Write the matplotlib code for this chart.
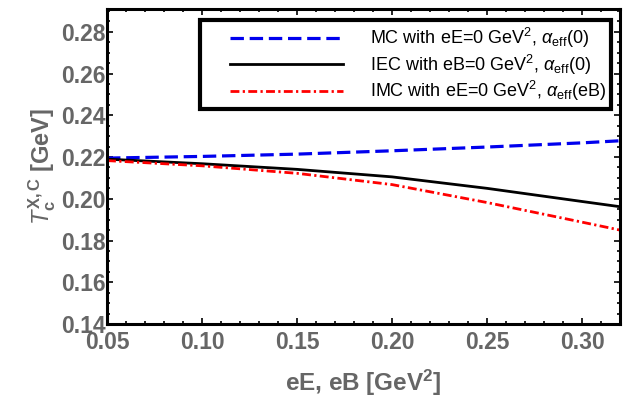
import numpy as np
import matplotlib.pyplot as plt
from matplotlib.lines import Line2D
from matplotlib.legend_handler import HandlerLine2D
from matplotlib.ticker import AutoMinorLocator

plt.rcParams['font.family'] = ['Liberation Sans', 'DejaVu Sans']
plt.rcParams['mathtext.fontset'] = 'custom'
plt.rcParams['mathtext.rm'] = 'Liberation Sans'
plt.rcParams['mathtext.it'] = 'Liberation Sans:italic'
plt.rcParams['mathtext.bf'] = 'Liberation Sans:bold'

# valores
eB = [0.05, 0.10, 0.15, 0.20, 0.25, 0.30, 0.32]
tc_mc = [0.2195, 0.2203, 0.2214, 0.2230, 0.2248, 0.2268, 0.2278]
tc_iec = [0.2190, 0.2168, 0.2141, 0.2105, 0.2050, 0.1987, 0.1962]
tc_imc = [0.2183, 0.2158, 0.2122, 0.2068, 0.1982, 0.1888, 0.1850]

rotulos = [r'MC with eE=0 GeV$^2$, $\alpha_{\rm eff}(0)$',
           r'IEC with eB=0 GeV$^2$, $\alpha_{\rm eff}(0)$',
           r'IMC with eE=0 GeV$^2$, $\alpha_{\rm eff}$(eB)']

cinza = '#666666'

fig = plt.figure(figsize=(6.27, 4.03), dpi=100)
ax = fig.add_axes([0.1707, 0.196, 0.8183, 0.782])

ax.plot(eB, tc_mc, color='#0000ee', lw=2.3, dashes=(4.2, 1.8), label=rotulos[0])
ax.plot(eB, tc_iec, color='black', lw=2.0, label=rotulos[1])
ax.plot(eB, tc_imc, color='#ff0000', lw=2.0, dashes=(3.2, 1.2, 0.8, 1.2), label=rotulos[2])

ax.set_xlim(0.05, 0.32)
ax.set_ylim(0.14, 0.291)
ax.set_xticks([0.05, 0.10, 0.15, 0.20, 0.25, 0.30])
ax.set_yticks(np.arange(0.14, 0.2801, 0.02))
ax.set_xticklabels(['0.05', '0.10', '0.15', '0.20', '0.25', '0.30'])
ax.set_yticklabels(['%.2f' % v for v in np.arange(0.14, 0.2801, 0.02)])
ax.xaxis.set_minor_locator(AutoMinorLocator(5))
ax.yaxis.set_minor_locator(AutoMinorLocator(4))
ax.tick_params(which='both', direction='in', top=True, right=True,
               labelcolor=cinza, labelsize=16.5, width=1.2)
ax.tick_params(which='major', length=4)
ax.tick_params(axis='x', which='major', pad=5)
ax.tick_params(axis='y', which='major', pad=1)
ax.tick_params(which='minor', length=2)
for lbl in ax.get_xticklabels() + ax.get_yticklabels():
    lbl.set_fontweight('bold')
for s in ax.spines.values():
    s.set_linewidth(2.2)

ax.set_xlabel(r'eE, eB [GeV$^\mathbf{2}$]', color=cinza, fontsize=17.5,
              fontweight='bold', labelpad=10)
ax.set_ylabel(r'$T_{\mathbf{c}}^{\mathbf{X,C}}$ [GeV]', color=cinza, fontsize=17,
              fontweight='bold', labelpad=2)

leg = ax.legend(loc='upper right', bbox_to_anchor=(0.99, 0.975), fontsize=13,
                handlelength=7.6, handletextpad=1.5, labelspacing=0.15,
                fancybox=False, framealpha=1, edgecolor='black',
                borderpad=0.3, borderaxespad=0.2,
                handler_map={Line2D: HandlerLine2D(xpad=1.35)})
leg.get_frame().set_linewidth(3)

fig.savefig('out.png', dpi=100)
